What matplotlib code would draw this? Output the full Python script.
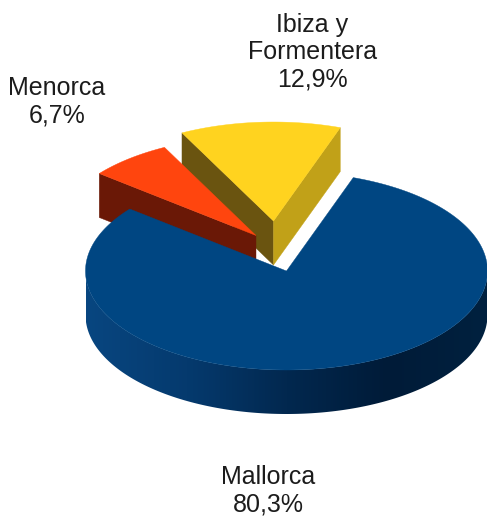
import numpy as np
import matplotlib
matplotlib.use("Agg")
import matplotlib.pyplot as plt
from matplotlib.patches import Polygon
from matplotlib.colors import LinearSegmentedColormap

labels = ["Mallorca", "Menorca", "Ibiza y\nFormentera"]
values = [80.3, 6.7, 12.9]
value_text = ["80,3%", "6,7%", "12,9%"]

top_colors = ["#004682", "#FF450E", "#FFD31F"]
side_colors = ["#004682", "#6A1806", "#6A5410"]
ibiza_right_color = "#C1A118"

START = 70.6
CX, CY, RX, RY, DEPTH = 286.5, 271.0, 201.0, 99.0, 44.0
offsets = [(0, 0), (-30.5, -35.5), (-13, -50)]
label_pos = [(268, 491), (57, 102), (312.5, 52)]

plt.rcParams["font.family"] = ["Liberation Sans", "DejaVu Sans"]
fig = plt.figure(figsize=(4.87, 5.18), dpi=100)
ax = fig.add_axes([0, 0, 1, 1])
ax.set_xlim(0, 487)
ax.set_ylim(518, 0)
ax.axis("off")

fracs = np.array(values) / sum(values) * 360
ends = START - np.cumsum(fracs)
starts = ends + fracs


def arc(a0, a1, off, dy=0.0, n=240):
    t = np.radians(np.linspace(a0, a1, n))
    return np.column_stack([CX + off[0] + RX * np.cos(t),
                            CY + off[1] + dy - RY * np.sin(t)])


def top(i):
    off = offsets[i]
    apex = [[CX + off[0], CY + off[1]]]
    return np.vstack([apex, arc(starts[i], ends[i], off)])


def radial_face(i, angle, color, z):
    off = offsets[i]
    apex = np.array([CX + off[0], CY + off[1]])
    t = np.radians(angle)
    rim = apex + [RX * np.cos(t), -RY * np.sin(t)]
    pts = np.array([apex, rim, rim + [0, DEPTH], apex + [0, DEPTH]])
    ax.add_patch(Polygon(pts, closed=True, fc=color, ec=color, lw=0.3, zorder=z))


# Ibiza y Formentera
radial_face(2, starts[2], side_colors[2], 1)
radial_face(2, ends[2], ibiza_right_color, 1)
ax.add_patch(Polygon(top(2), closed=True, fc=top_colors[2], ec=top_colors[2], lw=0.3, zorder=2))

# Menorca
radial_face(1, starts[1], side_colors[1], 3)
ax.add_patch(Polygon(top(1), closed=True, fc=top_colors[1], ec=top_colors[1], lw=0.3, zorder=4))

# Mallorca rim with horizontal gradient
rim_cmap = LinearSegmentedColormap.from_list(
    "rim",
    [(0.0, "#084680"), (0.25, "#053A6E"), (0.5, "#02284F"),
     (0.75, "#001B38"), (1.0, "#00213F")],
)
zero = (0, 0)
band = np.vstack([arc(180, 360, zero), arc(360, 180, zero, dy=DEPTH)])
clip = Polygon(band, closed=True, transform=ax.transData, fc="none", ec="none")
ax.add_patch(clip)
img = ax.imshow(np.linspace(0, 1, 256)[None, :], cmap=rim_cmap, aspect="auto",
                extent=(CX - RX, CX + RX, CY + RY + DEPTH, CY - 10), zorder=5)
img.set_clip_path(clip)
ax.set_xlim(0, 487)
ax.set_ylim(518, 0)

ax.add_patch(Polygon(top(0), closed=True, fc=top_colors[0], ec=top_colors[0], lw=0.3, zorder=6))

for name, val, (x, y) in zip(labels, value_text, label_pos):
    ax.text(x, y, f"{name}\n{val}", ha="center", va="center", fontsize=18,
            color="#1C1C1C", linespacing=1.17, zorder=7)

fig.savefig("out.png", dpi=100, facecolor="white")
